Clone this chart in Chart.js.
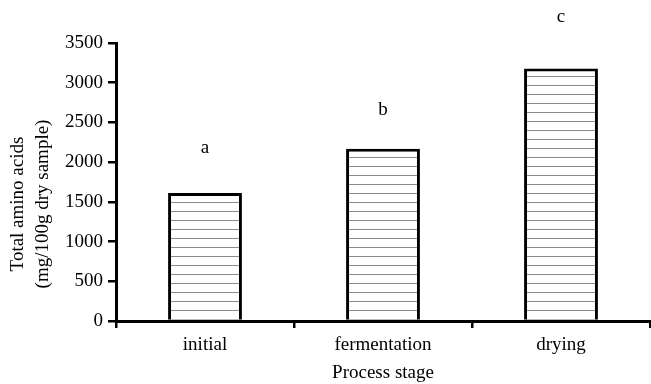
<!DOCTYPE html>
<html>
<head>
<meta charset="utf-8">
<script src="https://cdn.jsdelivr.net/npm/chart.js@4"></script>
<style>
  html, body { margin: 0; padding: 0; background: #fff; }
  #wrap { width: 651px; height: 384px; }
</style>
</head>
<body>
<div id="wrap"><canvas id="chart" width="651" height="384"></canvas></div>
<script>
// data
var stages = ["initial", "fermentation", "drying"];
var totalAmino = [1610, 2170, 3180];
var letters = ["a", "b", "c"];
var letterLevel = [2180, 2660, 3830]; // height of the significance letters, in y units
var yTitle = ["Total amino acids", "(mg/100g dry sample)"];

var serif = "'Liberation Serif', 'DejaVu Serif', serif";

// horizontal hatch fill
function hatch() {
    var c = document.createElement("canvas");
    c.width = 8;
    c.height = 9;
    var g = c.getContext("2d");
    g.fillStyle = "#fff";
    g.fillRect(0, 0, 8, 9);
    g.fillStyle = "#8a8a8a";
    g.fillRect(0, 4, 8, 1);
    return g.createPattern(c, "repeat");
}

var letterPlugin = {
    id: "letters",
    afterDatasetsDraw: function (chart) {
        var ctx = chart.ctx;
        var meta = chart.getDatasetMeta(0);
        var y = chart.scales.y;
        ctx.save();
        ctx.fillStyle = "#000";
        ctx.font = "19px " + serif;
        ctx.textAlign = "center";
        ctx.textBaseline = "middle";
        meta.data.forEach(function (bar, i) {
            ctx.fillText(letters[i], bar.x, y.getPixelForValue(letterLevel[i]));
        });
        ctx.restore();
    }
};

// y title sits a bit lower than the middle of the axis in the original
var yTitlePlugin = {
    id: "ytitle",
    afterDraw: function (chart) {
        var ctx = chart.ctx;
        var area = chart.chartArea;
        var cy = (area.top + area.bottom) / 2 + 22;
        ctx.save();
        ctx.fillStyle = "#000";
        ctx.font = "19px " + serif;
        ctx.textAlign = "center";
        ctx.textBaseline = "middle";
        yTitle.forEach(function (line, i) {
            ctx.save();
            ctx.translate(18 + i * 25, cy);
            ctx.rotate(-Math.PI / 2);
            ctx.fillText(line, 0, 0);
            ctx.restore();
        });
        ctx.restore();
    }
};

Chart.defaults.font.family = serif;
Chart.defaults.color = "#000";

new Chart(document.getElementById("chart"), {
    type: "bar",
    data: {
        labels: stages,
        datasets: [{
            data: totalAmino,
            backgroundColor: hatch(),
            borderColor: "#000",
            borderWidth: 3,
            borderSkipped: "bottom",
            categoryPercentage: 1,
            barPercentage: 0.415
        }]
    },
    options: {
        responsive: false,
        animation: false,
        layout: { padding: { top: 43, right: 1, left: 0, bottom: 0 } },
        plugins: { legend: { display: false }, tooltip: { enabled: false } },
        scales: {
            x: {
                afterFit: function (s) { s.height = 63; },
                grid: { drawOnChartArea: false, drawTicks: true, tickLength: 7, color: "#000", lineWidth: 2.5, offset: true },
                border: { color: "#000", width: 3 },
                ticks: { font: { size: 19 }, color: "#000", padding: 6 },
                title: { display: true, text: "Process stage", font: { size: 19 }, color: "#000", padding: { top: 4, bottom: 0 } }
            },
            y: {
                min: 0,
                max: 3500,
                afterFit: function (s) { s.width = 116; },
                grid: { drawOnChartArea: false, drawTicks: true, tickLength: 8, color: "#000", lineWidth: 2.5 },
                border: { color: "#000", width: 3 },
                ticks: {
                    stepSize: 500,
                    font: { size: 19 },
                    color: "#000",
                    padding: 5,
                    callback: function (v) { return String(v); }
                },
                title: { display: false }
            }
        }
    },
    plugins: [letterPlugin, yTitlePlugin]
});
</script>
</body>
</html>
